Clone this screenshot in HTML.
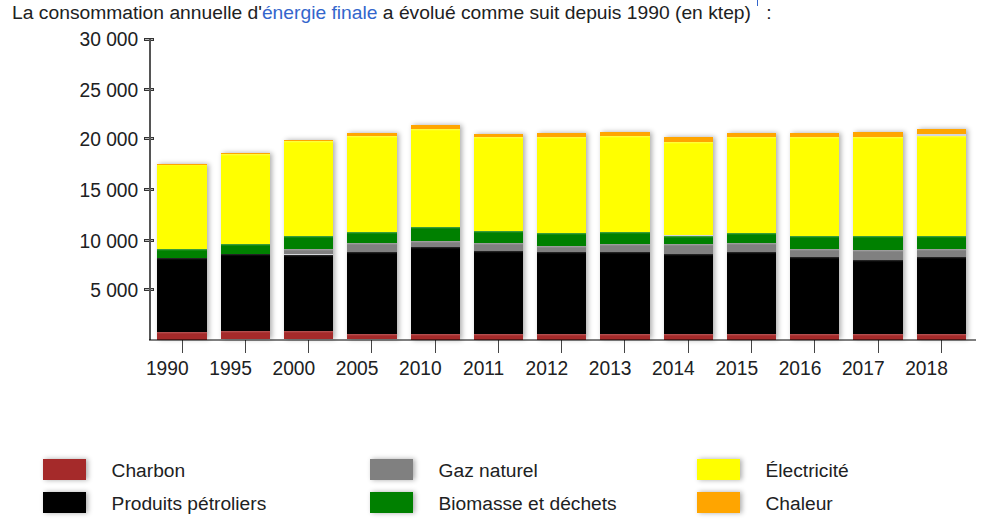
<!DOCTYPE html>
<html><head><meta charset="utf-8"><style>
html,body{margin:0;padding:0;background:#fff;}
body{width:1000px;height:527px;overflow:hidden;position:relative;font-family:"Liberation Sans",sans-serif;color:#202122;}
.title{position:absolute;left:12.1px;top:1.5px;font-size:19.25px;line-height:22px;white-space:nowrap;}
.title a{color:#3366cc;text-decoration:none;}
.sup{position:absolute;left:756.6px;top:-2px;width:1.5px;height:8px;background:#3366cc;}
.s{position:absolute;}
.sh{position:absolute;background:#d4d6da;box-shadow:2px 0 5px rgba(0,0,0,.33);}
.yaxis{position:absolute;left:149.2px;top:38.9px;width:1.6px;height:300.9px;background:#555;}
.xaxis{position:absolute;left:149.2px;top:339px;width:827px;height:2px;background:rgba(0,0,0,.5);}
.yt{position:absolute;left:144px;width:8px;height:1px;border:1px solid #333;background:#bbb;}
.yl{position:absolute;left:0;width:138.2px;text-align:right;font-size:19.2px;line-height:22px;white-space:nowrap;transform:scaleY(1.04);transform-origin:50% 17.65px;}
.xt{position:absolute;top:340px;width:1px;height:13px;background:#444;}
.xl{position:absolute;top:358.3px;width:70px;text-align:center;font-size:19.2px;line-height:22px;transform:scaleY(1.04);transform-origin:50% 17.65px;}
.lb{position:absolute;width:43px;height:21px;box-shadow:2px 0 5px rgba(0,0,0,.33);}
.lt{position:absolute;font-size:19.2px;line-height:22px;white-space:nowrap;}
</style></head><body>
<div class="title">La consommation annuelle d'<a>énergie finale</a> a évolué comme suit depuis 1990 (en ktep)<span style="display:inline-block;width:15.3px"></span>:</div>
<div class="sup"></div>
<div class="sh" style="left:157.45px;top:163.85px;width:49.30px;height:175.65px"></div><div class="s" style="left:157.45px;top:332.00px;width:49.30px;height:7.50px;background:linear-gradient(#b95959 0,#a52a2a 2px)"></div><div class="s" style="left:157.45px;top:258.10px;width:49.30px;height:73.90px;background:linear-gradient(#2e2e2e 0,#000000 2px)"></div><div class="s" style="left:157.45px;top:248.80px;width:49.30px;height:9.30px;background:linear-gradient(#4ca64c 0,#008000 2px)"></div><div class="s" style="left:157.45px;top:164.40px;width:49.30px;height:84.40px;background:linear-gradient(#ffff4c 0,#ffff00 2px)"></div><div class="s" style="left:157.45px;top:163.85px;width:49.30px;height:0.55px;background:#ffa500"></div><div class="xt" style="left:182px"></div><div class="xl" style="left:132.30px">1990</div><div class="sh" style="left:220.72px;top:152.60px;width:49.30px;height:186.90px"></div><div class="s" style="left:220.72px;top:330.70px;width:49.30px;height:8.80px;background:linear-gradient(#b95959 0,#a52a2a 2px)"></div><div class="s" style="left:220.72px;top:254.30px;width:49.30px;height:76.40px;background:linear-gradient(#2e2e2e 0,#000000 2px)"></div><div class="s" style="left:220.72px;top:244.10px;width:49.30px;height:10.20px;background:linear-gradient(#4ca64c 0,#008000 2px)"></div><div class="s" style="left:220.72px;top:153.50px;width:49.30px;height:90.60px;background:linear-gradient(#ffff4c 0,#ffff00 2px)"></div><div class="s" style="left:220.72px;top:152.60px;width:49.30px;height:0.90px;background:#ffa500"></div><div class="xt" style="left:245px"></div><div class="xl" style="left:195.57px">1995</div><div class="sh" style="left:283.99px;top:139.80px;width:49.30px;height:199.70px"></div><div class="s" style="left:283.99px;top:330.70px;width:49.30px;height:8.80px;background:linear-gradient(#b95959 0,#a52a2a 2px)"></div><div class="s" style="left:283.99px;top:255.00px;width:49.30px;height:75.70px;background:linear-gradient(#2e2e2e 0,#000000 2px)"></div><div class="s" style="left:283.99px;top:248.80px;width:49.30px;height:5.10px;background:linear-gradient(#a6a6a6 0,#808080 2px)"></div><div class="s" style="left:283.99px;top:236.00px;width:49.30px;height:12.80px;background:linear-gradient(#4ca64c 0,#008000 2px)"></div><div class="s" style="left:283.99px;top:141.30px;width:49.30px;height:94.70px;background:linear-gradient(#ffff4c 0,#ffff00 2px)"></div><div class="s" style="left:283.99px;top:139.80px;width:49.30px;height:1.50px;background:#ffa500"></div><div class="xt" style="left:308px"></div><div class="xl" style="left:258.84px">2000</div><div class="sh" style="left:347.26px;top:133.30px;width:49.30px;height:206.20px"></div><div class="s" style="left:347.26px;top:333.70px;width:49.30px;height:5.80px;background:linear-gradient(#b95959 0,#a52a2a 2px)"></div><div class="s" style="left:347.26px;top:251.80px;width:49.30px;height:81.90px;background:linear-gradient(#2e2e2e 0,#000000 2px)"></div><div class="s" style="left:347.26px;top:243.00px;width:49.30px;height:8.80px;background:linear-gradient(#a6a6a6 0,#808080 2px)"></div><div class="s" style="left:347.26px;top:232.30px;width:49.30px;height:10.70px;background:linear-gradient(#4ca64c 0,#008000 2px)"></div><div class="s" style="left:347.26px;top:136.30px;width:49.30px;height:96.00px;background:linear-gradient(#ffff4c 0,#ffff00 2px)"></div><div class="s" style="left:347.26px;top:133.30px;width:49.30px;height:3.00px;background:#ffa500"></div><div class="xt" style="left:371px"></div><div class="xl" style="left:322.11px">2005</div><div class="sh" style="left:410.53px;top:125.00px;width:49.30px;height:214.50px"></div><div class="s" style="left:410.53px;top:334.00px;width:49.30px;height:5.50px;background:linear-gradient(#b95959 0,#a52a2a 2px)"></div><div class="s" style="left:410.53px;top:246.80px;width:49.30px;height:87.20px;background:linear-gradient(#2e2e2e 0,#000000 2px)"></div><div class="s" style="left:410.53px;top:240.60px;width:49.30px;height:6.20px;background:linear-gradient(#a6a6a6 0,#808080 2px)"></div><div class="s" style="left:410.53px;top:227.00px;width:49.30px;height:13.60px;background:linear-gradient(#4ca64c 0,#008000 2px)"></div><div class="s" style="left:410.53px;top:128.80px;width:49.30px;height:98.20px;background:linear-gradient(#ffff4c 0,#ffff00 2px)"></div><div class="s" style="left:410.53px;top:125.00px;width:49.30px;height:3.80px;background:#ffa500"></div><div class="xt" style="left:435px"></div><div class="xl" style="left:385.38px">2010</div><div class="sh" style="left:473.80px;top:134.30px;width:49.30px;height:205.20px"></div><div class="s" style="left:473.80px;top:334.00px;width:49.30px;height:5.50px;background:linear-gradient(#b95959 0,#a52a2a 2px)"></div><div class="s" style="left:473.80px;top:251.30px;width:49.30px;height:82.70px;background:linear-gradient(#2e2e2e 0,#000000 2px)"></div><div class="s" style="left:473.80px;top:243.00px;width:49.30px;height:8.30px;background:linear-gradient(#a6a6a6 0,#808080 2px)"></div><div class="s" style="left:473.80px;top:230.50px;width:49.30px;height:12.50px;background:linear-gradient(#4ca64c 0,#008000 2px)"></div><div class="s" style="left:473.80px;top:137.00px;width:49.30px;height:93.50px;background:linear-gradient(#ffff4c 0,#ffff00 2px)"></div><div class="s" style="left:473.80px;top:134.30px;width:49.30px;height:2.70px;background:#ffa500"></div><div class="xt" style="left:498px"></div><div class="xl" style="left:448.65px">2011</div><div class="sh" style="left:537.07px;top:133.30px;width:49.30px;height:206.20px"></div><div class="s" style="left:537.07px;top:334.00px;width:49.30px;height:5.50px;background:linear-gradient(#b95959 0,#a52a2a 2px)"></div><div class="s" style="left:537.07px;top:252.30px;width:49.30px;height:81.70px;background:linear-gradient(#2e2e2e 0,#000000 2px)"></div><div class="s" style="left:537.07px;top:245.60px;width:49.30px;height:6.70px;background:linear-gradient(#a6a6a6 0,#808080 2px)"></div><div class="s" style="left:537.07px;top:233.00px;width:49.30px;height:12.60px;background:linear-gradient(#4ca64c 0,#008000 2px)"></div><div class="s" style="left:537.07px;top:137.00px;width:49.30px;height:96.00px;background:linear-gradient(#ffff4c 0,#ffff00 2px)"></div><div class="s" style="left:537.07px;top:133.30px;width:49.30px;height:3.70px;background:#ffa500"></div><div class="xt" style="left:561px"></div><div class="xl" style="left:511.92px">2012</div><div class="sh" style="left:600.34px;top:131.80px;width:49.30px;height:207.70px"></div><div class="s" style="left:600.34px;top:334.00px;width:49.30px;height:5.50px;background:linear-gradient(#b95959 0,#a52a2a 2px)"></div><div class="s" style="left:600.34px;top:252.30px;width:49.30px;height:81.70px;background:linear-gradient(#2e2e2e 0,#000000 2px)"></div><div class="s" style="left:600.34px;top:243.60px;width:49.30px;height:8.70px;background:linear-gradient(#a6a6a6 0,#808080 2px)"></div><div class="s" style="left:600.34px;top:232.30px;width:49.30px;height:11.30px;background:linear-gradient(#4ca64c 0,#008000 2px)"></div><div class="s" style="left:600.34px;top:136.30px;width:49.30px;height:96.00px;background:linear-gradient(#ffff4c 0,#ffff00 2px)"></div><div class="s" style="left:600.34px;top:131.80px;width:49.30px;height:4.50px;background:#ffa500"></div><div class="xt" style="left:624px"></div><div class="xl" style="left:575.19px">2013</div><div class="sh" style="left:663.61px;top:137.00px;width:49.30px;height:202.50px"></div><div class="s" style="left:663.61px;top:334.00px;width:49.30px;height:5.50px;background:linear-gradient(#b95959 0,#a52a2a 2px)"></div><div class="s" style="left:663.61px;top:254.30px;width:49.30px;height:79.70px;background:linear-gradient(#2e2e2e 0,#000000 2px)"></div><div class="s" style="left:663.61px;top:243.80px;width:49.30px;height:10.50px;background:linear-gradient(#a6a6a6 0,#808080 2px)"></div><div class="s" style="left:663.61px;top:235.50px;width:49.30px;height:8.30px;background:linear-gradient(#4ca64c 0,#008000 2px)"></div><div class="s" style="left:663.61px;top:141.80px;width:49.30px;height:93.70px;background:linear-gradient(#ffff4c 0,#ffff00 2px)"></div><div class="s" style="left:663.61px;top:137.00px;width:49.30px;height:4.80px;background:#ffa500"></div><div class="xt" style="left:688px"></div><div class="xl" style="left:638.46px">2014</div><div class="sh" style="left:726.88px;top:133.30px;width:49.30px;height:206.20px"></div><div class="s" style="left:726.88px;top:334.00px;width:49.30px;height:5.50px;background:linear-gradient(#b95959 0,#a52a2a 2px)"></div><div class="s" style="left:726.88px;top:252.30px;width:49.30px;height:81.70px;background:linear-gradient(#2e2e2e 0,#000000 2px)"></div><div class="s" style="left:726.88px;top:243.00px;width:49.30px;height:9.30px;background:linear-gradient(#a6a6a6 0,#808080 2px)"></div><div class="s" style="left:726.88px;top:233.00px;width:49.30px;height:10.00px;background:linear-gradient(#4ca64c 0,#008000 2px)"></div><div class="s" style="left:726.88px;top:137.00px;width:49.30px;height:96.00px;background:linear-gradient(#ffff4c 0,#ffff00 2px)"></div><div class="s" style="left:726.88px;top:133.30px;width:49.30px;height:3.70px;background:#ffa500"></div><div class="xt" style="left:751px"></div><div class="xl" style="left:701.73px">2015</div><div class="sh" style="left:790.15px;top:133.30px;width:49.30px;height:206.20px"></div><div class="s" style="left:790.15px;top:334.00px;width:49.30px;height:5.50px;background:linear-gradient(#b95959 0,#a52a2a 2px)"></div><div class="s" style="left:790.15px;top:257.30px;width:49.30px;height:76.70px;background:linear-gradient(#2e2e2e 0,#000000 2px)"></div><div class="s" style="left:790.15px;top:248.80px;width:49.30px;height:8.50px;background:linear-gradient(#a6a6a6 0,#808080 2px)"></div><div class="s" style="left:790.15px;top:236.00px;width:49.30px;height:12.80px;background:linear-gradient(#4ca64c 0,#008000 2px)"></div><div class="s" style="left:790.15px;top:137.00px;width:49.30px;height:99.00px;background:linear-gradient(#ffff4c 0,#ffff00 2px)"></div><div class="s" style="left:790.15px;top:133.30px;width:49.30px;height:3.70px;background:#ffa500"></div><div class="xt" style="left:814px"></div><div class="xl" style="left:765.00px">2016</div><div class="sh" style="left:853.42px;top:131.80px;width:49.30px;height:207.70px"></div><div class="s" style="left:853.42px;top:334.00px;width:49.30px;height:5.50px;background:linear-gradient(#b95959 0,#a52a2a 2px)"></div><div class="s" style="left:853.42px;top:259.80px;width:49.30px;height:74.20px;background:linear-gradient(#2e2e2e 0,#000000 2px)"></div><div class="s" style="left:853.42px;top:249.80px;width:49.30px;height:10.00px;background:linear-gradient(#a6a6a6 0,#808080 2px)"></div><div class="s" style="left:853.42px;top:236.00px;width:49.30px;height:13.80px;background:linear-gradient(#4ca64c 0,#008000 2px)"></div><div class="s" style="left:853.42px;top:137.00px;width:49.30px;height:99.00px;background:linear-gradient(#ffff4c 0,#ffff00 2px)"></div><div class="s" style="left:853.42px;top:131.80px;width:49.30px;height:5.20px;background:#ffa500"></div><div class="xt" style="left:878px"></div><div class="xl" style="left:828.27px">2017</div><div class="sh" style="left:916.69px;top:128.80px;width:49.30px;height:210.70px"></div><div class="s" style="left:916.69px;top:334.00px;width:49.30px;height:5.50px;background:linear-gradient(#b95959 0,#a52a2a 2px)"></div><div class="s" style="left:916.69px;top:257.30px;width:49.30px;height:76.70px;background:linear-gradient(#2e2e2e 0,#000000 2px)"></div><div class="s" style="left:916.69px;top:248.80px;width:49.30px;height:8.50px;background:linear-gradient(#a6a6a6 0,#808080 2px)"></div><div class="s" style="left:916.69px;top:236.00px;width:49.30px;height:12.80px;background:linear-gradient(#4ca64c 0,#008000 2px)"></div><div class="s" style="left:916.69px;top:136.30px;width:49.30px;height:99.70px;background:linear-gradient(#ffff4c 0,#ffff00 2px)"></div><div class="s" style="left:916.69px;top:128.80px;width:49.30px;height:5.60px;background:#ffa500"></div><div class="xt" style="left:941px"></div><div class="xl" style="left:891.54px">2018</div>
<div class="yt" style="top:38px"></div><div class="yl" style="top:28.95px">30&nbsp;000</div><div class="yt" style="top:88px"></div><div class="yl" style="top:79.50px">25&nbsp;000</div><div class="yt" style="top:137px"></div><div class="yl" style="top:128.60px">20&nbsp;000</div><div class="yt" style="top:188px"></div><div class="yl" style="top:179.75px">15&nbsp;000</div><div class="yt" style="top:239px"></div><div class="yl" style="top:230.60px">10&nbsp;000</div><div class="yt" style="top:288px"></div><div class="yl" style="top:279.60px">5&nbsp;000</div>
<div class="yaxis"></div>
<div class="xaxis"></div>
<div class="lb" style="left:42.80px;top:459.20px;background:#a52a2a"></div><div class="lt" style="left:111.60px;top:460.20px">Charbon</div><div class="lb" style="left:42.80px;top:492.40px;background:#000"></div><div class="lt" style="left:111.60px;top:492.50px">Produits pétroliers</div><div class="lb" style="left:370.10px;top:459.20px;background:#808080"></div><div class="lt" style="left:438.55px;top:460.20px">Gaz naturel</div><div class="lb" style="left:370.10px;top:492.40px;background:#008000"></div><div class="lt" style="left:438.55px;top:492.50px">Biomasse et déchets</div><div class="lb" style="left:697.40px;top:459.20px;background:#ff0"></div><div class="lt" style="left:765.50px;top:460.20px">Électricité</div><div class="lb" style="left:697.40px;top:492.40px;background:#ffa500"></div><div class="lt" style="left:765.50px;top:492.50px">Chaleur</div>
</body></html>
